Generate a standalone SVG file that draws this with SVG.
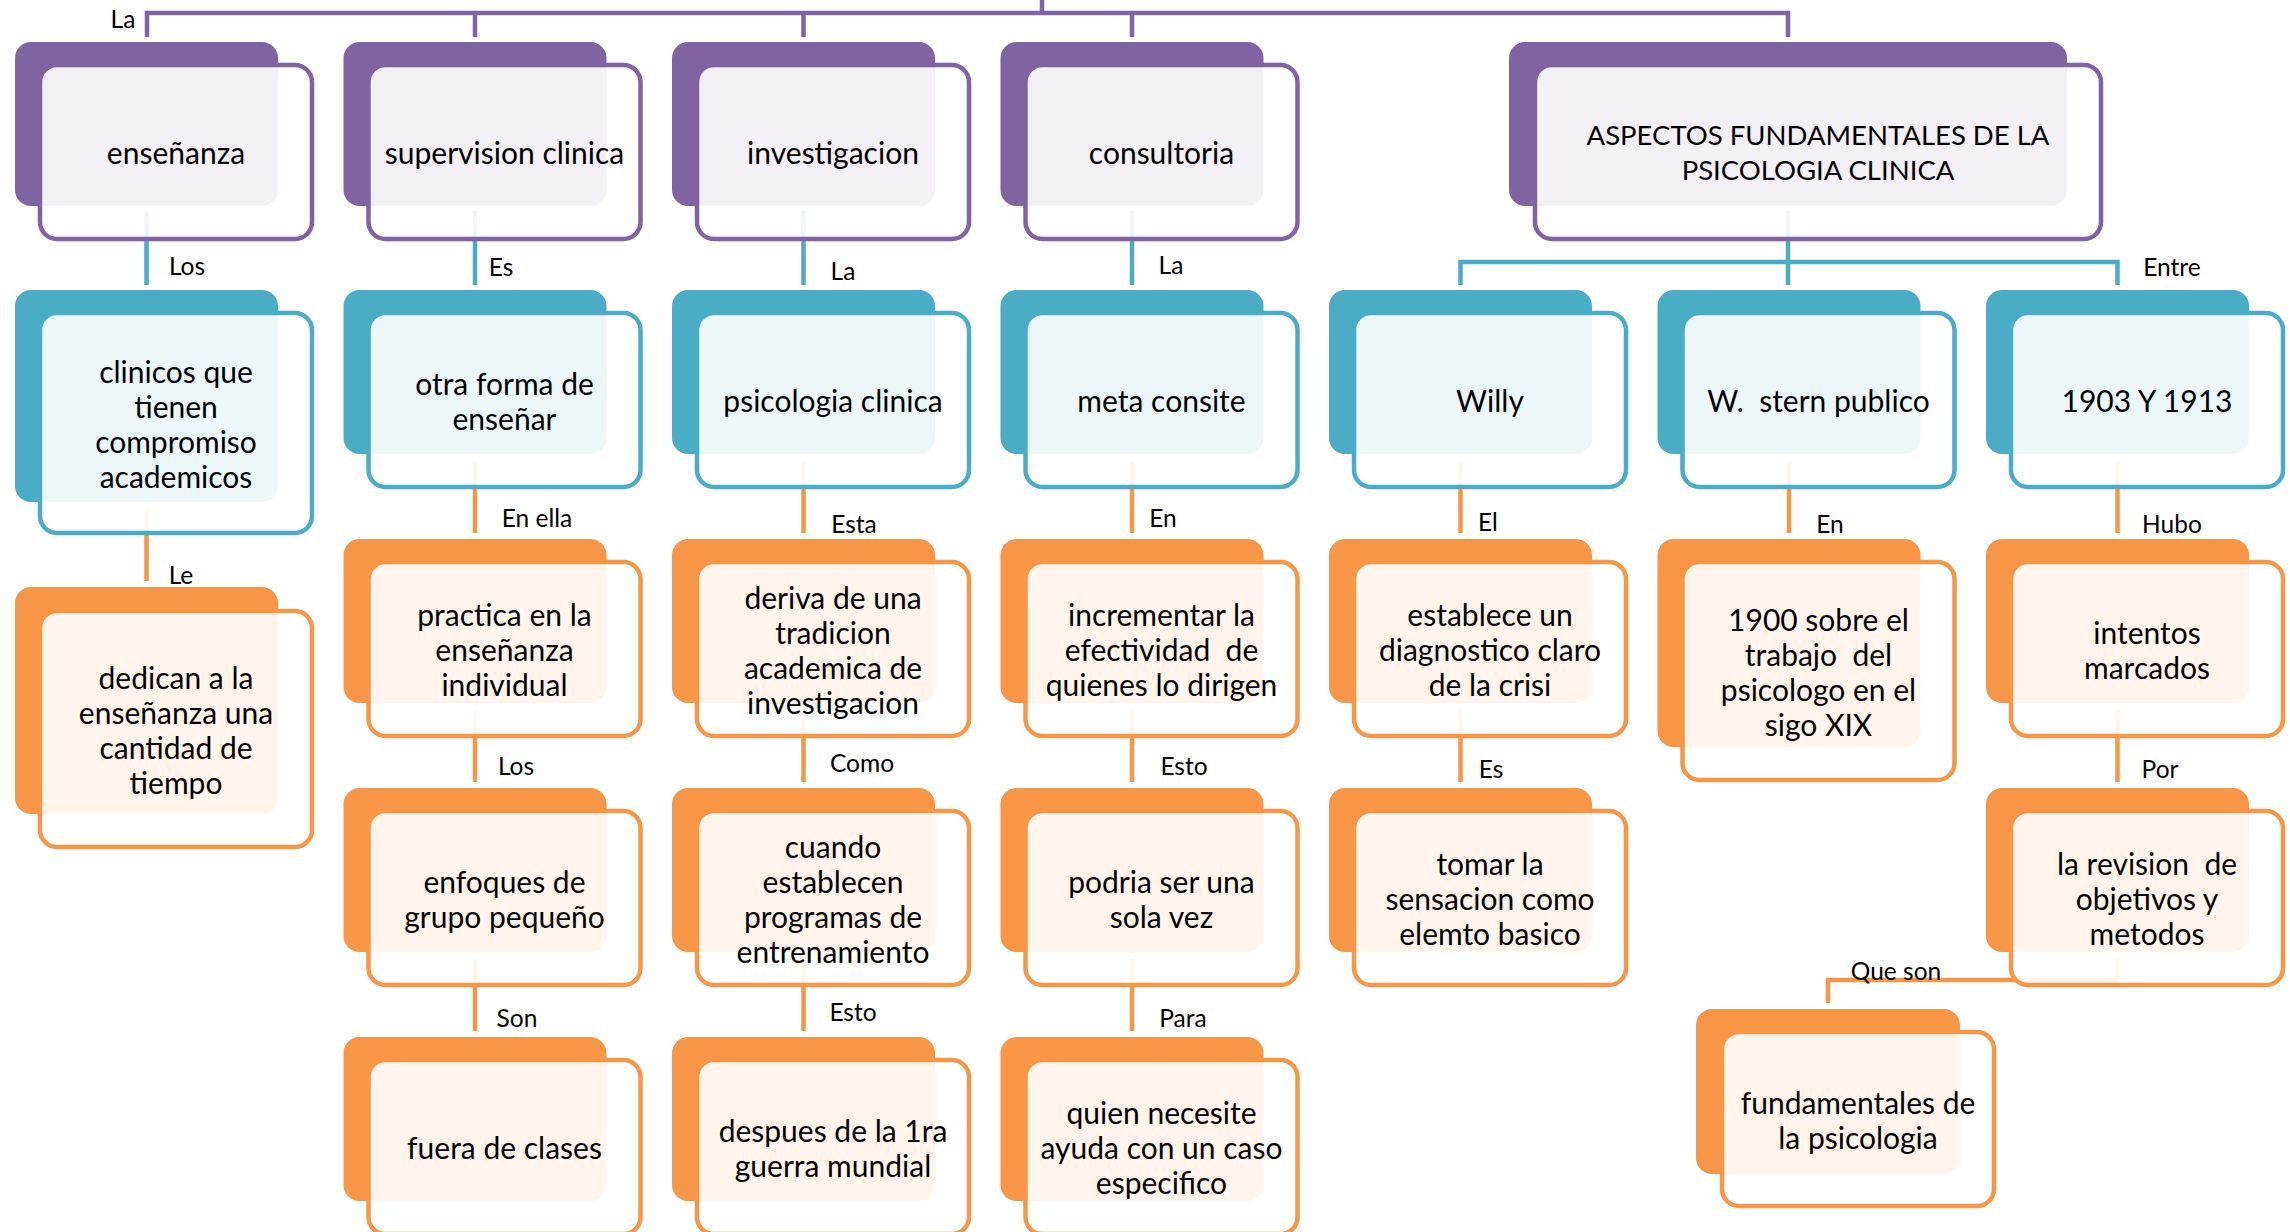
<svg xmlns="http://www.w3.org/2000/svg" width="2290" height="1232" viewBox="0 0 2290 1232">
<style>
.bg{fill:#ffffff}
.bp{fill:#8064A2}.bt{fill:#4BACC6}.bo{fill:#F79646}
.f{fill:#ffffff;fill-opacity:0.9;stroke-width:4.5}
.fp{stroke:#8064A2}.ft{stroke:#4BACC6}.fo{stroke:#F79646}
.cp{fill:none;stroke:#8064A2;stroke-width:4.5}
.ct{fill:none;stroke:#4BACC6;stroke-width:4.5}
.co{fill:none;stroke:#F79646;stroke-width:4.5}
.t{font-family:Lato,"Liberation Sans",sans-serif;font-size:30px;fill:#000;text-anchor:middle;dominant-baseline:central}
.m{font-size:27.5px}
.l{font-family:Lato,"Liberation Sans",sans-serif;font-size:24.5px;fill:#000;text-anchor:middle;dominant-baseline:central}
</style>
<rect class="bg" x="0" y="0" width="2290" height="1232"/>
<g id="connectors">
<path class="cp" d="M147,37 V13 H1788 V37 M475,13 V37 M803.5,13 V37 M1132,13 V37 M1042,0 V13"/>
<path class="ct" d="M146.5,211 V285 M475,211 V285 M803.5,211 V285 M1132,211 V285 M1788,211 V285 M1460.5,285 V262 H2117.5 V285"/>
<path class="co" d="M146.5,508 V581 M475,461 V533 M803.5,461 V533 M1132,461 V533 M1460.5,461 V533 M1789,461 V533 M2117.5,461 V533"/>
<path class="co" d="M475,710 V782 M803.5,710 V782 M1132,710 V782 M1460.5,710 V782 M2117.5,710 V782"/>
<path class="co" d="M475,959 V1031 M803.5,959 V1031 M1132,959 V1031 M2117.5,959 V980 H1828 V1003"/>
<g id="connector-labels">
<text class="l" x="123" y="18">La</text>
<text class="l" x="187" y="265">Los</text>
<text class="l" x="501" y="266">Es</text>
<text class="l" x="843" y="270">La</text>
<text class="l" x="1171" y="264">La</text>
<text class="l" x="2172" y="266">Entre</text>
<text class="l" x="181" y="574">Le</text>
<text class="l" x="537" y="517">En ella</text>
<text class="l" x="854" y="523">Esta</text>
<text class="l" x="1163" y="517">En</text>
<text class="l" x="1488" y="521">El</text>
<text class="l" x="1830" y="523">En</text>
<text class="l" x="2172" y="523">Hubo</text>
<text class="l" x="516" y="765">Los</text>
<text class="l" x="862" y="762">Como</text>
<text class="l" x="1184" y="765">Esto</text>
<text class="l" x="1491" y="768">Es</text>
<text class="l" x="2160" y="768">Por</text>
<text class="l" x="517" y="1017">Son</text>
<text class="l" x="853" y="1011">Esto</text>
<text class="l" x="1183" y="1017">Para</text>
<text class="l" x="1896" y="970">Que son</text>
</g>
</g>

<g id="n-ensenanza"><rect class="bp" x="15" y="42" width="263" height="164" rx="16"/><rect class="f fp" x="40" y="65" width="272" height="174" rx="17"/><text class="t" x="176" y="152">enseñanza</text></g>
<g id="n-supervision"><rect class="bp" x="343.5" y="42" width="263" height="164" rx="16"/><rect class="f fp" x="368.5" y="65" width="272" height="174" rx="17"/><text class="t" x="504.5" y="152">supervision clinica</text></g>
<g id="n-investigacion"><rect class="bp" x="672" y="42" width="263" height="164" rx="16"/><rect class="f fp" x="697" y="65" width="272" height="174" rx="17"/><text class="t" x="833" y="152">investigacion</text></g>
<g id="n-consultoria"><rect class="bp" x="1000.5" y="42" width="263" height="164" rx="16"/><rect class="f fp" x="1025.5" y="65" width="272" height="174" rx="17"/><text class="t" x="1161.5" y="152">consultoria</text></g>
<g id="n-main"><rect class="bp" x="1509" y="42" width="558" height="164" rx="16"/><rect class="f fp" x="1535" y="65" width="566" height="174" rx="17"/><text class="t m" x="1818"><tspan x="1818" y="134">ASPECTOS FUNDAMENTALES DE LA</tspan><tspan x="1818" y="169">PSICOLOGIA CLINICA</tspan></text></g>

<g id="n-clinicos"><rect class="bt" x="15" y="290" width="263" height="212" rx="16"/><rect class="f ft" x="40" y="313" width="272" height="220" rx="17"/><text class="t"><tspan x="176" y="371">clinicos que</tspan><tspan x="176" y="406">tienen</tspan><tspan x="176" y="441">compromiso</tspan><tspan x="176" y="476">academicos</tspan></text></g>
<g id="n-otra"><rect class="bt" x="343.5" y="290" width="263" height="164" rx="16"/><rect class="f ft" x="368.5" y="313" width="272" height="174" rx="17"/><text class="t"><tspan x="504.5" y="382.5">otra forma de</tspan><tspan x="504.5" y="417.5">enseñar</tspan></text></g>
<g id="n-psicologia"><rect class="bt" x="672" y="290" width="263" height="164" rx="16"/><rect class="f ft" x="697" y="313" width="272" height="174" rx="17"/><text class="t" x="833" y="400">psicologia clinica</text></g>
<g id="n-meta"><rect class="bt" x="1000.5" y="290" width="263" height="164" rx="16"/><rect class="f ft" x="1025.5" y="313" width="272" height="174" rx="17"/><text class="t" x="1161.5" y="400">meta consite</text></g>
<g id="n-willy"><rect class="bt" x="1329" y="290" width="263" height="164" rx="16"/><rect class="f ft" x="1354" y="313" width="272" height="174" rx="17"/><text class="t" x="1490" y="400">Willy</text></g>
<g id="n-stern"><rect class="bt" x="1657.5" y="290" width="263" height="164" rx="16"/><rect class="f ft" x="1682.5" y="313" width="272" height="174" rx="17"/><text class="t" x="1818.5" y="400" xml:space="preserve">W.  stern publico</text></g>
<g id="n-1903"><rect class="bt" x="1986" y="290" width="263" height="164" rx="16"/><rect class="f ft" x="2011" y="313" width="272" height="174" rx="17"/><text class="t" x="2147" y="400">1903 Y 1913</text></g>

<g id="n-dedican"><rect class="bo" x="15" y="587" width="263" height="227" rx="16"/><rect class="f fo" x="40" y="611" width="272" height="236" rx="17"/><text class="t"><tspan x="176" y="676.5">dedican a la</tspan><tspan x="176" y="711.5">enseñanza una</tspan><tspan x="176" y="746.5">cantidad de</tspan><tspan x="176" y="781.5">tiempo</tspan></text></g>
<g id="n-practica"><rect class="bo" x="343.5" y="539" width="263" height="164" rx="16"/><rect class="f fo" x="368.5" y="562" width="272" height="174" rx="17"/><text class="t"><tspan x="504.5" y="614">practica en la</tspan><tspan x="504.5" y="649">enseñanza</tspan><tspan x="504.5" y="684">individual</tspan></text></g>
<g id="n-deriva"><rect class="bo" x="672" y="539" width="263" height="164" rx="16"/><rect class="f fo" x="697" y="562" width="272" height="174" rx="17"/><text class="t"><tspan x="833" y="596.5">deriva de una</tspan><tspan x="833" y="631.5">tradicion</tspan><tspan x="833" y="666.5">academica de</tspan><tspan x="833" y="701.5">investigacion</tspan></text></g>
<g id="n-incrementar"><rect class="bo" x="1000.5" y="539" width="263" height="164" rx="16"/><rect class="f fo" x="1025.5" y="562" width="272" height="174" rx="17"/><text class="t" xml:space="preserve"><tspan x="1161.5" y="614">incrementar la</tspan><tspan x="1161.5" y="649">efectividad  de</tspan><tspan x="1161.5" y="684">quienes lo dirigen</tspan></text></g>
<g id="n-establece"><rect class="bo" x="1329" y="539" width="263" height="164" rx="16"/><rect class="f fo" x="1354" y="562" width="272" height="174" rx="17"/><text class="t"><tspan x="1490" y="614">establece un</tspan><tspan x="1490" y="649">diagnostico claro</tspan><tspan x="1490" y="684">de la crisi</tspan></text></g>
<g id="n-1900"><rect class="bo" x="1657.5" y="539" width="263" height="208" rx="16"/><rect class="f fo" x="1682.5" y="562" width="272" height="218" rx="17"/><text class="t" xml:space="preserve"><tspan x="1818.5" y="618.5">1900 sobre el</tspan><tspan x="1818.5" y="653.5">trabajo  del</tspan><tspan x="1818.5" y="688.5">psicologo en el</tspan><tspan x="1818.5" y="723.5">sigo XIX</tspan></text></g>
<g id="n-intentos"><rect class="bo" x="1986" y="539" width="263" height="164" rx="16"/><rect class="f fo" x="2011" y="562" width="272" height="174" rx="17"/><text class="t"><tspan x="2147" y="631.5">intentos</tspan><tspan x="2147" y="666.5">marcados</tspan></text></g>

<g id="n-enfoques"><rect class="bo" x="343.5" y="788" width="263" height="164" rx="16"/><rect class="f fo" x="368.5" y="811" width="272" height="174" rx="17"/><text class="t"><tspan x="504.5" y="880.5">enfoques de</tspan><tspan x="504.5" y="915.5">grupo pequeño</tspan></text></g>
<g id="n-cuando"><rect class="bo" x="672" y="788" width="263" height="164" rx="16"/><rect class="f fo" x="697" y="811" width="272" height="174" rx="17"/><text class="t"><tspan x="833" y="845.5">cuando</tspan><tspan x="833" y="880.5">establecen</tspan><tspan x="833" y="915.5">programas de</tspan><tspan x="833" y="950.5">entrenamiento</tspan></text></g>
<g id="n-podria"><rect class="bo" x="1000.5" y="788" width="263" height="164" rx="16"/><rect class="f fo" x="1025.5" y="811" width="272" height="174" rx="17"/><text class="t"><tspan x="1161.5" y="880.5">podria ser una</tspan><tspan x="1161.5" y="915.5">sola vez</tspan></text></g>
<g id="n-tomar"><rect class="bo" x="1329" y="788" width="263" height="164" rx="16"/><rect class="f fo" x="1354" y="811" width="272" height="174" rx="17"/><text class="t"><tspan x="1490" y="863">tomar la</tspan><tspan x="1490" y="898">sensacion como</tspan><tspan x="1490" y="933">elemto basico</tspan></text></g>
<g id="n-revision"><rect class="bo" x="1986" y="788" width="263" height="164" rx="16"/><rect class="f fo" x="2011" y="811" width="272" height="174" rx="17"/><text class="t" xml:space="preserve"><tspan x="2147" y="863">la revision  de</tspan><tspan x="2147" y="898">objetivos y</tspan><tspan x="2147" y="933">metodos</tspan></text></g>

<g id="n-fuera"><rect class="bo" x="343.5" y="1037" width="263" height="164" rx="16"/><rect class="f fo" x="368.5" y="1060" width="272" height="174" rx="17"/><text class="t" x="504.5" y="1147">fuera de clases</text></g>
<g id="n-despues"><rect class="bo" x="672" y="1037" width="263" height="164" rx="16"/><rect class="f fo" x="697" y="1060" width="272" height="174" rx="17"/><text class="t"><tspan x="833" y="1129.5">despues de la 1ra</tspan><tspan x="833" y="1164.5">guerra mundial</tspan></text></g>
<g id="n-quien"><rect class="bo" x="1000.5" y="1037" width="263" height="164" rx="16"/><rect class="f fo" x="1025.5" y="1060" width="272" height="174" rx="17"/><text class="t"><tspan x="1161.5" y="1112">quien necesite</tspan><tspan x="1161.5" y="1147">ayuda con un caso</tspan><tspan x="1161.5" y="1182">especifico</tspan></text></g>
<g id="n-fundamentales"><rect class="bo" x="1696" y="1009" width="264" height="165" rx="16"/><rect class="f fo" x="1722" y="1032" width="272" height="174" rx="17"/><text class="t"><tspan x="1858" y="1101.5">fundamentales de</tspan><tspan x="1858" y="1136.5">la psicologia</tspan></text></g>
</svg>
